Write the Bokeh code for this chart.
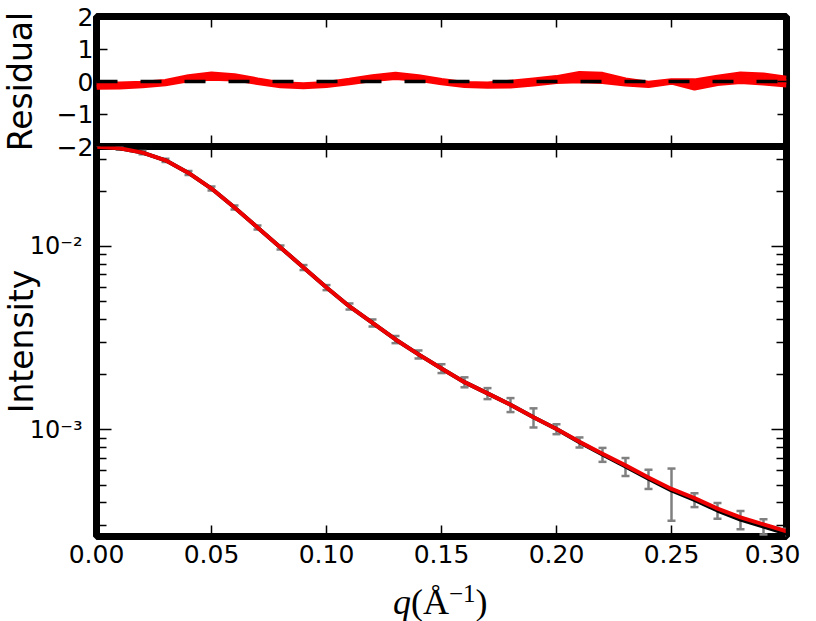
from bokeh.plotting import figure
from bokeh.layouts import column
from bokeh.models import (Range1d, FixedTicker, CustomJSTickFormatter, LinearAxis, LogAxis,
                          ColumnDataSource, Whisker, TeeHead, Div)
from bokeh.embed import file_html
from bokeh.resources import INLINE

# ---------------- data ----------------
q = [0.00, 0.01, 0.02, 0.03, 0.04, 0.05, 0.06, 0.07, 0.08, 0.09, 0.10,
     0.11, 0.12, 0.13, 0.14, 0.15, 0.16, 0.17, 0.18, 0.19, 0.20,
     0.21, 0.22, 0.23, 0.24, 0.25, 0.26, 0.27, 0.28, 0.29, 0.30]

intensity = [0.0350, 0.0343, 0.0325, 0.0295, 0.0252, 0.0207, 0.0163, 0.0127, 0.00988, 0.00768, 0.00597,
             0.00471, 0.00383, 0.00311, 0.00258, 0.00216, 0.00182, 0.00158, 0.00137, 0.00117, 0.00101,
             0.000855, 0.000733, 0.000631, 0.000541, 0.000467, 0.000415, 0.000363, 0.000324, 0.000297, 0.000272]

fit = [0.0350, 0.0343, 0.0325, 0.0295, 0.0252, 0.0207, 0.0163, 0.0127, 0.00988, 0.00768, 0.00597,
       0.00471, 0.00383, 0.00311, 0.00258, 0.00216, 0.00182, 0.00158, 0.00137, 0.00117, 0.00101,
       0.000860, 0.000740, 0.000640, 0.000550, 0.000476, 0.000424, 0.000372, 0.000333, 0.000305, 0.000280]

sigma = [0.00043, 0.00064, 0.00062, 0.00058, 0.00064, 0.00052, 0.00041, 0.00032, 0.00025, 0.00024, 0.00019,
         0.00018, 0.00017, 0.00014, 0.00013, 0.00012, 0.000114, 0.000109, 0.00012, 0.00014, 0.000063,
         0.000054, 0.000064, 0.000071, 0.000065, 0.000148, 0.000036, 0.000036, 0.000037, 0.000028, 0.000017]

res_upper = [-0.08, -0.08, -0.05, 0.00, 0.15, 0.23, 0.18, 0.05, -0.07, -0.10, -0.06,
             0.04, 0.15, 0.22, 0.15, 0.03, -0.06, -0.08, -0.02, 0.05, 0.12,
             0.25, 0.22, 0.05, -0.05, 0.02, 0.02, 0.13, 0.23, 0.20, 0.10]
res_middle = [-0.12, -0.12, -0.09, -0.03, 0.10, 0.17, 0.13, 0.02, -0.10, -0.12, -0.09,
              0.00, 0.10, 0.17, 0.11, 0.00, -0.09, -0.11, -0.08, -0.01, 0.06,
              0.12, 0.10, -0.03, -0.09, 0.00, -0.10, 0.02, 0.10, 0.06, 0.00]
res_lower = [-0.18, -0.17, -0.13, -0.07, 0.05, 0.10, 0.08, -0.03, -0.13, -0.16, -0.12,
             -0.04, 0.06, 0.12, 0.07, -0.04, -0.12, -0.15, -0.14, -0.08, 0.00,
             0.02, 0.00, -0.08, -0.12, -0.02, -0.20, -0.06, 0.00, -0.05, -0.11]

x_ticks = [0.00, 0.05, 0.10, 0.15, 0.20, 0.25, 0.30]
res_ticks = [-2, -1, 0, 1, 2]
log_major = [1e-3, 1e-2]
log_minor = [3e-4, 4e-4, 5e-4, 6e-4, 7e-4, 8e-4, 9e-4,
             2e-3, 3e-3, 4e-3, 5e-3, 6e-3, 7e-3, 8e-3, 9e-3,
             2e-2, 3e-2]

# ---------------- helpers ----------------
FONT = "DejaVu Sans"
x_fmt = CustomJSTickFormatter(code="return tick.toFixed(2);")
res_fmt = CustomJSTickFormatter(code="return tick < 0 ? '\u2212' + Math.abs(tick) : String(Math.round(tick));")
log_fmt = CustomJSTickFormatter(code="""
const e = Math.round(Math.log10(tick));
const m = {'-':'\u207b','0':'\u2070','1':'\u00b9','2':'\u00b2','3':'\u00b3','4':'\u2074','5':'\u2075','6':'\u2076','7':'\u2077','8':'\u2078','9':'\u2079'};
return '10' + String(e).split('').map(c => m[c]).join('');
""")


def style_axis(ax, tick_in, minor_in=0, labels=False, size="25px", standoff=4):
    ax.axis_line_color = None
    ax.major_tick_in = tick_in
    ax.major_tick_out = 0
    ax.major_tick_line_color = "black"
    ax.major_tick_line_width = 1.5
    if minor_in:
        ax.minor_tick_in = minor_in
        ax.minor_tick_out = 0
        ax.minor_tick_line_color = "black"
        ax.minor_tick_line_width = 1.5
    else:
        ax.minor_tick_line_color = None
    if labels:
        ax.major_label_text_font = FONT
        ax.major_label_text_font_size = size
        ax.major_label_text_color = "black"
        ax.major_label_standoff = standoff
    else:
        ax.major_label_text_font_size = "1px"
        ax.major_label_text_alpha = 0
        ax.major_label_standoff = 0


def style_label(ax, text, standoff):
    ax.axis_label = text
    ax.axis_label_text_font = FONT
    ax.axis_label_text_font_size = "33px"
    ax.axis_label_text_font_style = "normal"
    ax.axis_label_text_color = "black"
    ax.axis_label_standoff = standoff


common = dict(output_backend="svg", toolbar_location=None, frame_width=690,
              min_border_left=106, min_border_right=14,
              background_fill_color=None, border_fill_color=None,
              outline_line_color="black", outline_line_width=7, outline_line_alpha=1.0)

# ---------------- residual panel ----------------
top = figure(frame_height=130, min_border_top=16, min_border_bottom=16,
             x_range=Range1d(0, 0.3), y_range=Range1d(-2, 2), **common)
top.grid.visible = False

for ys in (res_lower, res_middle, res_upper):
    top.line(q, ys, line_color="#ff0000", line_width=5)
top.line([q[0], q[-1]], [0, 0], line_color="black", line_width=3.5, line_dash="21 23")

style_axis(top.xaxis[0], 11)
top.xaxis[0].ticker = FixedTicker(ticks=x_ticks)
style_axis(top.yaxis[0], 11, labels=True, standoff=3)
top.yaxis[0].ticker = FixedTicker(ticks=res_ticks)
top.yaxis[0].formatter = res_fmt
style_label(top.yaxis[0], "Residual", 14)

ax = LinearAxis(ticker=FixedTicker(ticks=x_ticks))
style_axis(ax, 11)
top.add_layout(ax, "above")
ax = LinearAxis(ticker=FixedTicker(ticks=res_ticks))
style_axis(ax, 9)
top.add_layout(ax, "right")

# ---------------- intensity panel ----------------
bot = figure(frame_height=390, min_border_top=0, min_border_bottom=40,
             x_range=Range1d(0, 0.3), y_range=Range1d(2.62e-4, 0.0351), y_axis_type="log",
             styles={"margin-top": "-16px"}, **common)
bot.grid.visible = False

src = ColumnDataSource(dict(q=q, i=intensity,
                            lo=[a - s for a, s in zip(intensity, sigma)],
                            up=[a + s for a, s in zip(intensity, sigma)]))
bot.add_layout(Whisker(base="q", lower="lo", upper="up", source=src,
                       line_color="#808080", line_width=2.5,
                       lower_head=TeeHead(size=8, line_color="#808080", line_width=2.5),
                       upper_head=TeeHead(size=8, line_color="#808080", line_width=2.5)))
bot.line("q", "i", source=src, line_color="black", line_width=4)
bot.line(q, fit, line_color="#ee0000", line_width=4)

style_axis(bot.xaxis[0], 11, labels=True, standoff=8)
bot.xaxis[0].ticker = FixedTicker(ticks=x_ticks)
bot.xaxis[0].formatter = x_fmt
style_axis(bot.yaxis[0], 15, minor_in=10, labels=True, size="24px", standoff=14)
bot.yaxis[0].ticker = FixedTicker(ticks=log_major, minor_ticks=log_minor)
bot.yaxis[0].formatter = log_fmt
style_label(bot.yaxis[0], "Intensity", -14)

ax = LinearAxis(ticker=FixedTicker(ticks=x_ticks))
style_axis(ax, 11)
bot.add_layout(ax, "above")
ax = LogAxis(ticker=FixedTicker(ticks=log_major, minor_ticks=log_minor))
style_axis(ax, 15, minor_in=10)
bot.add_layout(ax, "right")

# ---------------- x-axis title (mixed styles, real text) ----------------
xlabel_html = (
    '<div style="padding-top:3px;padding-left:398px;font-family:\'Liberation Serif\',serif;'
    'font-size:36px;line-height:36px;color:black;white-space:nowrap;">'
    '<i>q</i>(\u00c5<span style="font-size:25px;line-height:0;vertical-align:12px;">\u22121</span>)'
    '</div>'
)
xlabel = Div(text=xlabel_html, width=810, height=45)

layout = column(top, bot, xlabel, spacing=0, styles={"margin-left": "-10px"})

open("out.html", "w", encoding="utf-8").write(file_html(layout, INLINE))
